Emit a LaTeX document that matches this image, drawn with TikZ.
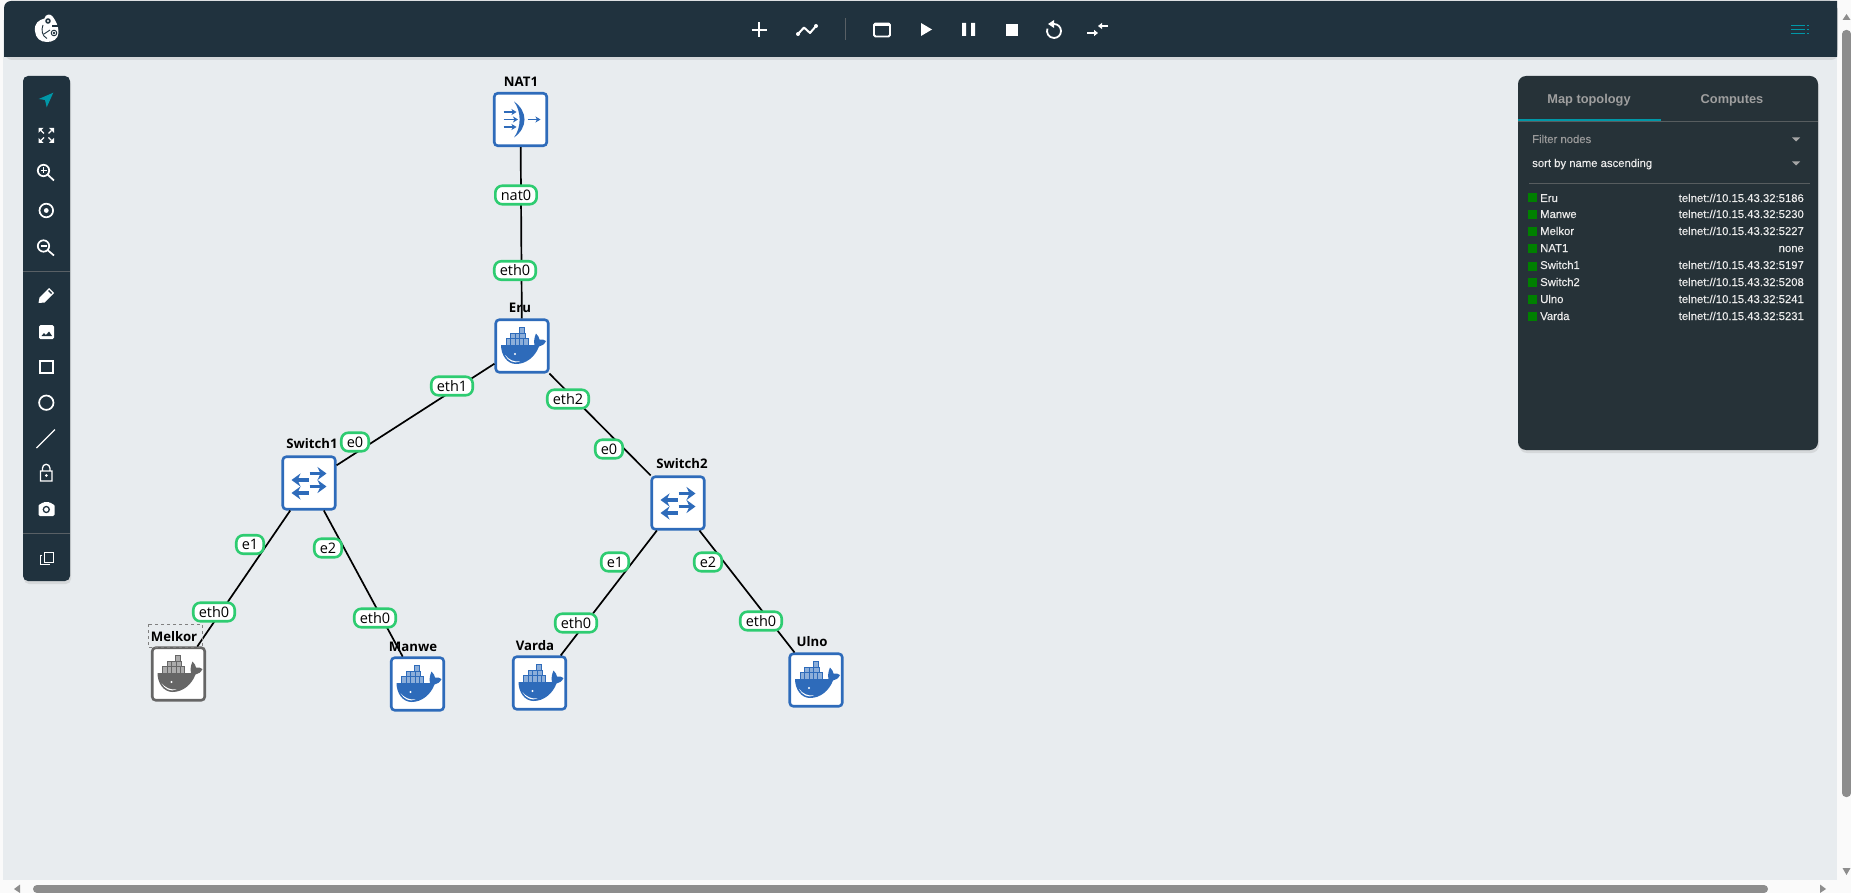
\documentclass[tikz,border=0pt]{standalone}
\usepackage{fontspec}
\setmainfont{Open Sans}
\newfontfamily\panelfont{Liberation Sans}
\newfontfamily\rowfont[FakeBold=0.25]{Liberation Sans}
\usetikzlibrary{arrows.meta,shadows}

\definecolor{barcol}{RGB}{32,50,62}
\definecolor{panelcol}{RGB}{38,50,56}
\definecolor{canvascol}{RGB}{232,236,239}
\definecolor{nodeblue}{RGB}{46,107,186}
\definecolor{nodegray}{RGB}{102,102,102}
\definecolor{linkgreen}{RGB}{46,204,113}
\definecolor{tealcol}{RGB}{0,151,167}
\definecolor{ledgreen}{RGB}{0,128,0}
\definecolor{thumbcol}{RGB}{141,141,141}

\tikzset{
  softshadow/.style={drop shadow={shadow xshift=1pt, shadow yshift=-3pt, opacity=.18}},
  device/.style={draw=nodeblue, fill=white, line width=2.6pt, rounded corners=3.5pt, minimum size=52.5pt, inner sep=0pt},
  link/.style={line width=1.7pt, black},
  port/.style={draw=linkgreen, fill=white, line width=2.6pt, rounded corners=7pt, minimum height=18.5pt, inner xsep=5.5pt, inner ysep=0pt, font=\fontsize{14.5}{16}\selectfont},
  devname/.style={font=\fontsize{13.2}{15}\selectfont\bfseries, inner sep=0pt},
  tool/.style={white, line width=1.7pt},
  tab/.style={font=\panelfont\fontsize{12.8}{15}\selectfont\bfseries, text=gray!75, inner sep=0pt},
  rowname/.style={anchor=west, font=\rowfont\fontsize{11.3}{13}\selectfont, text=white!92!black, inner sep=0pt, text height=8pt, text depth=0pt},
  rowaddr/.style={anchor=east, font=\rowfont\fontsize{11.3}{13}\selectfont, text=white!92!black, inner sep=0pt, text height=8pt, text depth=0pt},
  led/.style={fill=ledgreen, minimum size=9pt, inner sep=0pt},
  pics/docker/.style={code={
    % containers
    \fill[#1!55] (-16,-7.5) rectangle (6,-1) (-11.5,-12.5) rectangle (3,-7.5) (-3,-18.5) rectangle (2,-12.5);
    \draw[#1, line width=.5pt] (-16,-7.5) rectangle (6,-1) (-11.5,-12.5) rectangle (3,-7.5) (-3,-18.5) rectangle (2,-12.5)
      (-11.5,-7.5) -- (-11.5,-1) (-7,-12.5) -- (-7,-1) (-2.5,-12.5) -- (-2.5,-1) (1.5,-7.5) -- (1.5,-1);
    % whale
    \fill[#1] (-21,-1) -- (12.5,-1) .. controls (11.5,-5) and (12.5,-9) .. (14,-12.5) .. controls (16,-10.5) and (17.5,-8) .. (17.5,-6.5)
      .. controls (19.5,-7) and (22.5,-6.5) .. (24,-5) .. controls (22.5,-1.5) and (19.5,0) .. (17,0.5)
      .. controls (13,11) and (4,18) .. (-6,18) .. controls (-15,18) and (-21,9) .. (-21,-1) -- cycle;
    \fill[white] (-17,9) .. controls (-13,14) and (-8,16) .. (-2,15.5) .. controls (-8,18) and (-14,15) .. (-17,9) -- cycle;
    \fill[white] (-7,8) circle (1.1pt);
  }},
  pics/swarrows/.style={code={
    \draw[nodeblue, line width=3.2pt, -{Stealth[length=9pt,width=13pt,inset=3pt]}] (0.5,-9.5) -- (17.5,-9.5);
    \draw[nodeblue, line width=3.2pt, -{Stealth[length=9pt,width=13pt,inset=3pt]}] (0.5,3.5) -- (17.5,3.5);
    \draw[nodeblue, line width=3.2pt, -{Stealth[length=9pt,width=13pt,inset=3pt]}] (-0.5,-3) -- (-17.5,-3);
    \draw[nodeblue, line width=3.2pt, -{Stealth[length=9pt,width=13pt,inset=3pt]}] (-0.5,10) -- (-17.5,10);
  }},
  pics/natgate/.style={code={
    \fill[nodeblue] (-6.5,-18) .. controls (7.5,-8) and (7.5,8) .. (-6.5,18) .. controls (1,8) and (1,-8) .. (-6.5,-18) -- cycle;
    \draw[nodeblue, line width=1.7pt, -{Stealth[length=5pt,width=6pt,inset=1.5pt]}] (-17,-7.5) -- (-4,-7.5);
    \draw[nodeblue, line width=1.7pt, -{Stealth[length=5pt,width=6pt,inset=1.5pt]}] (-17,0) -- (-2.5,0);
    \draw[nodeblue, line width=1.7pt, -{Stealth[length=5pt,width=6pt,inset=1.5pt]}] (-17,7.5) -- (-4,7.5);
    \draw[nodeblue, line width=1.7pt, -{Stealth[length=5pt,width=6pt,inset=1.5pt]}] (7,0) -- (20,0);
  }}
}

\begin{document}
\begin{tikzpicture}[x=1pt, y=-1pt]
  \useasboundingbox (0,0) rectangle (1851,893);
  \fill[white!98!black] (0,0) rectangle (1851,893);
  \fill[canvascol] (3,20) rectangle (1837,880);

  % scroll bars
  \fill[thumbcol, rounded corners=4pt] (33,885) rectangle (1768,893);
  \fill[thumbcol, rounded corners=4pt] (1842,30) rectangle (1851,797);
  \fill[thumbcol] (1846.5,14) -- (1850.5,20) -- (1842.5,20) -- cycle;
  \fill[thumbcol] (1846.5,875) -- (1850.5,868) -- (1842.5,868) -- cycle;
  \fill[thumbcol] (14,889) -- (20,884.5) -- (20,893) -- cycle;
  \fill[thumbcol] (1826,889) -- (1820,884.5) -- (1820,893) -- cycle;

  % bars and panel
  \fill[barcol, rounded corners=7pt, softshadow] (4,1) -- (1837,1) -- (1837,57) -- (4,57) -- cycle;
  \fill[barcol] (1800,1) rectangle (1837,57) (4,30) rectangle (40,57);
  \fill[barcol, rounded corners=5pt, softshadow] (23,76) rectangle (70,581);
  \fill[panelcol, rounded corners=8pt, softshadow] (1518,76) rectangle (1818,450);

  % logo
  \fill[white] (35,31) .. controls (34,23) and (39,20) .. (44.5,18.5) .. controls (45,14) and (51,13) .. (53,17)
    .. controls (55,20) and (59,26) .. (58.5,33) .. controls (58,39) and (53,42) .. (47,42) .. controls (40,42) and (35.5,38) .. (35,31) -- cycle;
  \fill[barcol] (48,21) circle (2.8pt);
  \fill[white] (48,21) circle (1.2pt);
  \fill[barcol] (52,25.5) rectangle (60,27);
  \draw[barcol, line width=.9pt] (43,25) .. controls (41,30) and (42,36) .. (47,38.5) (44,34) -- (50,30);
  \draw[barcol, line width=.9pt] (54,33) circle (2.8pt) (54,33) circle (.8pt);

  % top bar icons
  \draw[white, line width=2pt] (751.5,30) -- (766.5,30) (759,22.5) -- (759,37.5);
  \draw[white, line width=2pt, line join=round] (798,34) -- (804,27.5) -- (810,33) -- (816,26);
  \fill[white] (798,34) circle (2pt) (816,26) circle (2pt);
  \draw[gray!60!barcol, line width=.8pt] (845.5,18) -- (845.5,40);
  \draw[white, line width=1.8pt, rounded corners=1.5pt] (874,23.5) rectangle (890,36.5);
  \fill[white] (874,23) rectangle (890,26.5);
  \fill[white] (921,23) -- (932,29.5) -- (921,36) -- cycle;
  \fill[white] (962,23) rectangle (966,36) (971,23) rectangle (975,36);
  \fill[white] (1005.5,24) rectangle (1018,36);
  \draw[white, line width=1.8pt] (1054,24) arc[start angle=90, end angle=-200, radius=7pt];
  \fill[white] (1054,20) -- (1054,28) -- (1048,24) -- cycle;
  \draw[white, line width=1.6pt, -{Triangle[length=4pt,width=6pt]}] (1108,26) -- (1098,26);
  \draw[white, line width=1.6pt, -{Triangle[length=4pt,width=6pt]}] (1087,33) -- (1098,33);
  \draw[tealcol, line width=1.6pt] (1791,25.5) -- (1805,25.5) (1791,29.5) -- (1805,29.5) (1791,33.5) -- (1805,33.5);
  \draw[tealcol, line width=1.6pt] (1806.5,25.5) -- (1809,25.5) (1806.5,29.5) -- (1809,29.5) (1806.5,33.5) -- (1809,33.5);

  % tool bar icons
  \fill[tealcol] (53.3,92.7) -- (38.7,99) -- (45,100) -- (46.7,107.3) -- cycle;
  \fill[white] (38.5,128) -- (43.5,128) -- (38.5,133) -- cycle (54,128) -- (49,128) -- (54,133) -- cycle
    (38.5,143) -- (43.5,143) -- (38.5,138) -- cycle (54,143) -- (49,143) -- (54,138) -- cycle;
  \draw[white, line width=1.2pt] (41,130.5) -- (44,133.5) (51.5,130.5) -- (48.5,133.5) (41,140.5) -- (44,137.5) (51.5,140.5) -- (48.5,137.5);
  \draw[tool] (43.5,170.5) circle (5.7pt) (47.5,174.5) -- (54,180.5);
  \draw[white, line width=1.3pt] (40.5,170.5) -- (46.5,170.5) (43.5,167.5) -- (43.5,173.5);
  \draw[tool] (46.3,210.5) circle (6.8pt);
  \fill[white] (46.3,210.5) circle (2.4pt);
  \draw[tool] (43.5,246) circle (5.7pt) (47.5,250) -- (54,255.5);
  \draw[white, line width=1.3pt] (40.5,246) -- (46.5,246);
  \draw[gray!60!barcol, line width=.8pt] (23,271) -- (70,271) (23,533) -- (70,533);
  \fill[white] (38.5,303) -- (39.5,297.5) -- (49,288) -- (54,293) -- (44.5,302.5) -- cycle;
  \fill[barcol] (48,291) -- (49,290) -- (52,293) -- (51,294) -- cycle;
  \fill[white, rounded corners=1.5pt] (39,325) rectangle (54,339);
  \fill[barcol] (41.5,336) -- (44,333) -- (46,335) -- (49,331.5) -- (52,336) -- cycle;
  \draw[tool] (39.7,361) rectangle (53,373);
  \draw[tool] (46.3,402.7) circle (7.2pt);
  \draw[white, line width=1.4pt] (36.5,448) -- (55,429.5);
  \draw[white, line width=1.3pt] (40.5,471) rectangle (52,481) (42.5,471) -- (42.5,468) arc[start angle=180, end angle=0, radius=3.7pt] -- (50,471);
  \fill[white] (46.3,475.5) circle (1.5pt);
  \fill[white, rounded corners=1.5pt] (38.5,504) -- (42,504) -- (43,502) -- (50,502) -- (51,504) -- (54.5,504) -- (54.5,516) -- (38.5,516) -- cycle;
  \draw[barcol, line width=1.3pt] (46.3,509.5) circle (3pt);
  \draw[white, line width=.9pt] (44,552) -- (53,552) -- (53,562) -- (44,562) -- cycle (42,555) -- (40,555) -- (40,564) -- (50,564);

  % nodes
  \node[device] (nat1) at (520.5,119.5) {};
  \node[device] (eru) at (522,346) {};
  \node[device] (switch1) at (309,483) {};
  \node[device] (switch2) at (678,503) {};
  \node[device, draw=nodegray] (melkor) at (178.5,674) {};
  \node[device] (manwe) at (417.5,684) {};
  \node[device] (varda) at (539.5,683) {};
  \node[device] (ulno) at (816,680) {};

  % links
  \draw[link] (nat1) -- (eru);
  \draw[link] (eru) -- (switch1);
  \draw[link] (eru) -- (switch2);
  \draw[link] (switch1) -- (melkor);
  \draw[link] (switch1) -- (manwe);
  \draw[link] (switch2) -- (varda);
  \draw[link] (switch2) -- (ulno);

  % icons
  \pic at (nat1) {natgate};
  \pic at (eru) {docker=nodeblue};
  \pic at (switch1) {swarrows};
  \pic at (switch2) {swarrows};
  \pic at (melkor) {docker=nodegray};
  \pic at (manwe) {docker=nodeblue};
  \pic at (varda) {docker=nodeblue};
  \pic at (ulno) {docker=nodeblue};

  % names
  \draw[gray, dashed, line width=.6pt] (148,624) rectangle (202,647);
  \node[devname] (nat1name) at (521,82) {NAT1};
  \node[devname] (eruname) at (520,308) {Eru};
  \node[devname] (switch1name) at (312,444) {Switch1};
  \node[devname] (switch2name) at (682,464) {Switch2};
  \node[devname] (melkorname) at (174,637) {Melkor};
  \node[devname] (manwename) at (413,647) {Manwe};
  \node[devname] (vardaname) at (535,646) {Varda};
  \node[devname] (ulnoname) at (812,642) {Ulno};

  % ports
  \node[port] (p1) at (516,195) {nat0};
  \node[port] (p2) at (515,270.5) {eth0};
  \node[port] (p3) at (452,386) {eth1};
  \node[port] (p4) at (568,399) {eth2};
  \node[port] (p5) at (355,442) {e0};
  \node[port] (p6) at (609,449) {e0};
  \node[port] (p7) at (250,544.5) {e1};
  \node[port] (p8) at (328,548) {e2};
  \node[port] (p9) at (615,562) {e1};
  \node[port] (p10) at (708,562) {e2};
  \node[port] (p11) at (214,612) {eth0};
  \node[port] (p12) at (375,618) {eth0};
  \node[port] (p13) at (576,623) {eth0};
  \node[port] (p14) at (761,621) {eth0};

  % panel
  \node[tab] (tabmap) at (1589,100) {Map topology};
  \node[tab] (tabcomp) at (1732,100) {Computes};
  \draw[gray!55!panelcol, line width=.8pt] (1518,121) -- (1818,121) (1529,183) -- (1810,183);
  \draw[tealcol, line width=2pt] (1518,120) -- (1661,120);
  \node[rowname, text=gray!80] (filter) at (1532,139) {Filter nodes};
  \node[rowname] (sortby) at (1532,163) {sort by name ascending};
  \fill[gray!70!white] (1792,137.5) -- (1800,137.5) -- (1796,141.5) -- cycle;
  \fill[gray!70!white] (1792,161.5) -- (1800,161.5) -- (1796,165.5) -- cycle;

  \node[led] (l1) at (1532.5,198) {};
  \node[led] (l2) at (1532.5,215) {};
  \node[led] (l3) at (1532.5,232) {};
  \node[led] (l4) at (1532.5,249) {};
  \node[led] (l5) at (1532.5,266) {};
  \node[led] (l6) at (1532.5,282) {};
  \node[led] (l7) at (1532.5,299) {};
  \node[led] (l8) at (1532.5,316) {};
  \node[rowname] (n1) at (1540,198) {Eru};
  \node[rowname] (n2) at (1540,214) {Manwe};
  \node[rowname] (n3) at (1540,231) {Melkor};
  \node[rowname] (n4) at (1540,248) {NAT1};
  \node[rowname] (n5) at (1540,265) {Switch1};
  \node[rowname] (n6) at (1540,282) {Switch2};
  \node[rowname] (n7) at (1540,299) {Ulno};
  \node[rowname] (n8) at (1540,316) {Varda};
  \node[rowaddr] (a1) at (1804,198) {telnet://10.15.43.32:5186};
  \node[rowaddr] (a2) at (1804,214) {telnet://10.15.43.32:5230};
  \node[rowaddr] (a3) at (1804,231) {telnet://10.15.43.32:5227};
  \node[rowaddr] (a4) at (1804,248) {none};
  \node[rowaddr] (a5) at (1804,265) {telnet://10.15.43.32:5197};
  \node[rowaddr] (a6) at (1804,282) {telnet://10.15.43.32:5208};
  \node[rowaddr] (a7) at (1804,299) {telnet://10.15.43.32:5241};
  \node[rowaddr] (a8) at (1804,316) {telnet://10.15.43.32:5231};
\end{tikzpicture}
\end{document}
